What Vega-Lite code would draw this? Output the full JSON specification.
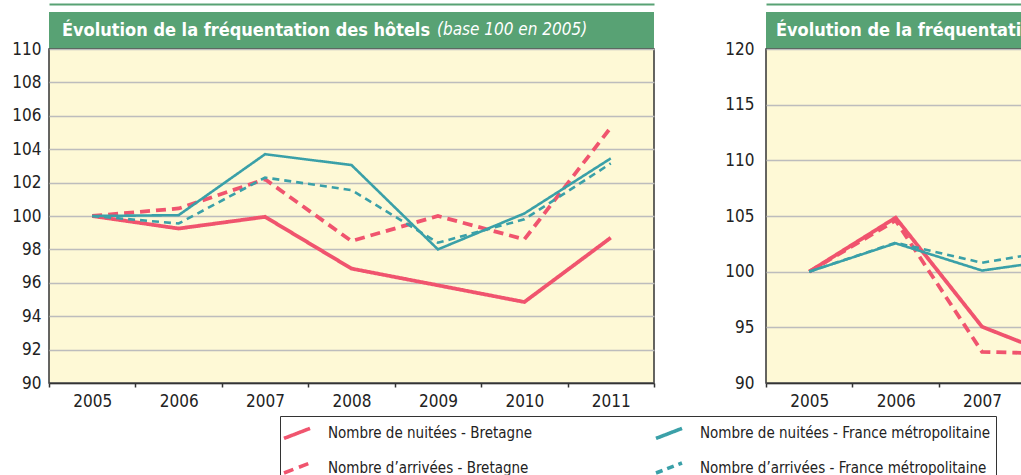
{
  "$schema": "https://vega.github.io/schema/vega-lite/v6.json",
  "padding": {"left": 11, "top": 4, "right": 0, "bottom": 0},
  "autosize": {"type": "pad"},
  "background": "white",
  "config": {
    "font": "DejaVu Sans Condensed, Liberation Sans, sans-serif",
    "view": {"stroke": "#333333", "strokeWidth": 1.5, "fill": "#fef9d6"},
    "axis": {
      "labelFont": "DejaVu Sans Condensed, Liberation Sans, sans-serif",
      "labelFontSize": 17,
      "labelColor": "#222222"
    },
    "legend": {
      "labelFont": "DejaVu Sans Condensed, Liberation Sans, sans-serif"
    }
  },
  "datasets": {
    "hotels": [
      {"annee": "2005", "serie": "Nombre de nuitées - Bretagne", "valeur": 100},
      {"annee": "2006", "serie": "Nombre de nuitées - Bretagne", "valeur": 99.25},
      {"annee": "2007", "serie": "Nombre de nuitées - Bretagne", "valeur": 99.95},
      {"annee": "2008", "serie": "Nombre de nuitées - Bretagne", "valeur": 96.85},
      {"annee": "2009", "serie": "Nombre de nuitées - Bretagne", "valeur": 95.85},
      {"annee": "2010", "serie": "Nombre de nuitées - Bretagne", "valeur": 94.85},
      {"annee": "2011", "serie": "Nombre de nuitées - Bretagne", "valeur": 98.7},
      {"annee": "2005", "serie": "Nombre de nuitées - France métropolitaine", "valeur": 100},
      {"annee": "2006", "serie": "Nombre de nuitées - France métropolitaine", "valeur": 100.05},
      {"annee": "2007", "serie": "Nombre de nuitées - France métropolitaine", "valeur": 103.7},
      {"annee": "2008", "serie": "Nombre de nuitées - France métropolitaine", "valeur": 103.05},
      {"annee": "2009", "serie": "Nombre de nuitées - France métropolitaine", "valeur": 98.0},
      {"annee": "2010", "serie": "Nombre de nuitées - France métropolitaine", "valeur": 100.15},
      {"annee": "2011", "serie": "Nombre de nuitées - France métropolitaine", "valeur": 103.45},
      {"annee": "2005", "serie": "Nombre d’arrivées - Bretagne", "valeur": 100},
      {"annee": "2006", "serie": "Nombre d’arrivées - Bretagne", "valeur": 100.45},
      {"annee": "2007", "serie": "Nombre d’arrivées - Bretagne", "valeur": 102.2},
      {"annee": "2008", "serie": "Nombre d’arrivées - Bretagne", "valeur": 98.5},
      {"annee": "2009", "serie": "Nombre d’arrivées - Bretagne", "valeur": 100.0},
      {"annee": "2010", "serie": "Nombre d’arrivées - Bretagne", "valeur": 98.6},
      {"annee": "2011", "serie": "Nombre d’arrivées - Bretagne", "valeur": 105.3},
      {"annee": "2005", "serie": "Nombre d’arrivées - France métropolitaine", "valeur": 100},
      {"annee": "2006", "serie": "Nombre d’arrivées - France métropolitaine", "valeur": 99.55},
      {"annee": "2007", "serie": "Nombre d’arrivées - France métropolitaine", "valeur": 102.3},
      {"annee": "2008", "serie": "Nombre d’arrivées - France métropolitaine", "valeur": 101.55},
      {"annee": "2009", "serie": "Nombre d’arrivées - France métropolitaine", "valeur": 98.4},
      {"annee": "2010", "serie": "Nombre d’arrivées - France métropolitaine", "valeur": 99.8},
      {"annee": "2011", "serie": "Nombre d’arrivées - France métropolitaine", "valeur": 103.15}
    ],
    "campings": [
      {"annee": "2005", "serie": "Nombre de nuitées - Bretagne", "valeur": 100},
      {"annee": "2006", "serie": "Nombre de nuitées - Bretagne", "valeur": 104.85},
      {"annee": "2007", "serie": "Nombre de nuitées - Bretagne", "valeur": 95.05},
      {"annee": "2008", "serie": "Nombre de nuitées - Bretagne", "valeur": 92.0},
      {"annee": "2005", "serie": "Nombre de nuitées - France métropolitaine", "valeur": 100},
      {"annee": "2006", "serie": "Nombre de nuitées - France métropolitaine", "valeur": 102.55},
      {"annee": "2007", "serie": "Nombre de nuitées - France métropolitaine", "valeur": 100.1},
      {"annee": "2008", "serie": "Nombre de nuitées - France métropolitaine", "valeur": 101.2},
      {"annee": "2005", "serie": "Nombre d’arrivées - Bretagne", "valeur": 100},
      {"annee": "2006", "serie": "Nombre d’arrivées - Bretagne", "valeur": 104.6},
      {"annee": "2007", "serie": "Nombre d’arrivées - Bretagne", "valeur": 92.8},
      {"annee": "2008", "serie": "Nombre d’arrivées - Bretagne", "valeur": 92.6},
      {"annee": "2005", "serie": "Nombre d’arrivées - France métropolitaine", "valeur": 100},
      {"annee": "2006", "serie": "Nombre d’arrivées - France métropolitaine", "valeur": 102.6},
      {"annee": "2007", "serie": "Nombre d’arrivées - France métropolitaine", "valeur": 100.8},
      {"annee": "2008", "serie": "Nombre d’arrivées - France métropolitaine", "valeur": 102.1}
    ]
  },
  "bounds": "flush",
  "columns": 2,
  "spacing": {"row": 0, "column": 112},
  "concat": [
    {
      "width": 605,
      "height": 37,
      "view": {"stroke": null, "fill": null},
      "data": {"values": [{"k": 1}]},
      "title": {
        "text": "Évolution de la fréquentation des hôtels",
        "frame": "group", "anchor": "start", "orient": "top",
        "offset": -25, "dy": 25, "baseline": "alphabetic", "dx": 13,
        "color": "white", "fontSize": 18, "fontWeight": "bold",
        "font": "DejaVu Sans Condensed, Liberation Sans, sans-serif"
      },
      "mark": {"type": "rect", "fill": "#58a274"},
      "encoding": {
        "x": {"datum": 0, "type": "quantitative", "scale": {"domain": [0, 1]},
              "axis": {"orient": "top", "offset": 8, "labels": false, "ticks": false, "grid": false, "title": null, "domainColor": "#58a274", "domainWidth": 2}},
        "x2": {"datum": 1}
      }
    },
    {
      "width": 605,
      "height": 37,
      "view": {"stroke": null, "fill": null},
      "data": {"values": [{"k": 1}]},
      "title": {
        "text": "Évolution de la fréquentation des campings",
        "frame": "group", "anchor": "start", "orient": "top",
        "offset": -25, "dy": 25, "baseline": "alphabetic", "dx": 10,
        "color": "white", "fontSize": 18, "fontWeight": "bold",
        "font": "DejaVu Sans Condensed, Liberation Sans, sans-serif"
      },
      "mark": {"type": "rect", "fill": "#58a274"},
      "encoding": {
        "x": {"datum": 0, "type": "quantitative", "scale": {"domain": [0, 1]},
              "axis": {"orient": "top", "offset": 8, "labels": false, "ticks": false, "grid": false, "title": null, "domainColor": "#58a274", "domainWidth": 2}},
        "x2": {"datum": 1}
      }
    },
    {
      "width": 605,
      "height": 334,
      "data": {"name": "hotels"},
      "title": {
        "text": "(base 100 en 2005)",
        "frame": "group", "anchor": "start", "orient": "top",
        "offset": 13, "dy": 25, "baseline": "alphabetic", "dx": 388,
        "color": "white", "fontSize": 17, "fontWeight": "normal", "fontStyle": "italic",
        "font": "DejaVu Sans Condensed, Liberation Sans, sans-serif"
      },
      "encoding": {
        "x": {"field": "annee", "type": "ordinal", "bandPosition": 0.5,
              "scale": {"type": "band", "paddingInner": 0, "paddingOuter": 0, "domain": ["2005","2006","2007","2008","2009","2010","2011"]},
              "axis": {"title": null, "labelAngle": 0, "tickBand": "extent", "tickSize": 4, "tickColor": "#333333", "tickWidth": 1.5, "domainColor": "#333333", "domainWidth": 1.5, "labelPadding": 6, "grid": false}},
        "y": {"field": "valeur", "type": "quantitative",
              "scale": {"domain": [90, 110], "nice": false, "zero": false},
              "axis": {"title": null, "values": [90,92,94,96,98,100,102,104,106,108,110], "ticks": false, "domain": false, "labelPadding": 8, "gridColor": "#bdbdbd", "gridWidth": 1.5}},
        "color": {"field": "serie", "type": "nominal",
                  "scale": {"domain": ["Nombre de nuitées - Bretagne", "Nombre d’arrivées - Bretagne", "Nombre de nuitées - France métropolitaine", "Nombre d’arrivées - France métropolitaine"],
                            "range": ["#f0546e", "#f0546e", "#3aa0a8", "#3aa0a8"]},
                  "legend": {"title": null, "orient": "none", "legendX": 231, "legendY": 404, "columns": 2, "columnPadding": 115, "rowPadding": 9,
                             "symbolType": "M-1.3,0.5L1.3,-0.5", "symbolSize": 400, "symbolStrokeWidth": 3.6, "labelFontSize": 15, "labelColor": "#222222", "labelOffset": 19,
                             "strokeColor": "#333333", "fillColor": "white", "padding": 5, "labelLimit": 400}},
        "strokeDash": {"field": "serie", "type": "nominal",
                       "scale": {"domain": ["Nombre de nuitées - Bretagne", "Nombre d’arrivées - Bretagne", "Nombre de nuitées - France métropolitaine", "Nombre d’arrivées - France métropolitaine"],
                                 "range": [[1, 0], [10, 6], [1, 0], [7, 5]]},
                       "legend": {"title": null, "orient": "none", "legendX": 231, "legendY": 404, "columns": 2, "columnPadding": 115, "rowPadding": 9,
                             "symbolType": "M-1.3,0.5L1.3,-0.5", "symbolSize": 400, "symbolStrokeWidth": 3.6, "labelFontSize": 15, "labelColor": "#222222", "labelOffset": 19,
                             "strokeColor": "#333333", "fillColor": "white", "padding": 5, "labelLimit": 400}}
      },
      "layer": [
        {
          "transform": [{"filter": "indexof(datum.serie, 'Bretagne') >= 0"}],
          "mark": {"type": "line", "strokeWidth": 3.8, "strokeCap": "butt"}
        },
        {
          "transform": [{"filter": "indexof(datum.serie, 'France') >= 0"}],
          "mark": {"type": "line", "strokeWidth": 2.6, "strokeCap": "butt"}
        }
      ]
    },
    {
      "width": 605,
      "height": 334,
      "data": {"name": "campings"},
      "encoding": {
        "x": {"field": "annee", "type": "ordinal", "bandPosition": 0.5,
              "scale": {"type": "band", "paddingInner": 0, "paddingOuter": 0, "domain": ["2005","2006","2007","2008","2009","2010","2011"]},
              "axis": {"title": null, "labelAngle": 0, "tickBand": "extent", "tickSize": 4, "tickColor": "#333333", "tickWidth": 1.5, "domainColor": "#333333", "domainWidth": 1.5, "labelPadding": 6, "grid": false}},
        "y": {"field": "valeur", "type": "quantitative",
              "scale": {"domain": [90, 120], "nice": false, "zero": false},
              "axis": {"title": null, "values": [90,95,100,105,110,115,120], "ticks": false, "domain": false, "labelPadding": 12, "gridColor": "#bdbdbd", "gridWidth": 1.5}},
        "color": {"field": "serie", "type": "nominal",
                  "scale": {"domain": ["Nombre de nuitées - Bretagne", "Nombre d’arrivées - Bretagne", "Nombre de nuitées - France métropolitaine", "Nombre d’arrivées - France métropolitaine"],
                            "range": ["#f0546e", "#f0546e", "#3aa0a8", "#3aa0a8"]},
                  "legend": null},
        "strokeDash": {"field": "serie", "type": "nominal",
                       "scale": {"domain": ["Nombre de nuitées - Bretagne", "Nombre d’arrivées - Bretagne", "Nombre de nuitées - France métropolitaine", "Nombre d’arrivées - France métropolitaine"],
                                 "range": [[1, 0], [10, 6], [1, 0], [7, 5]]},
                       "legend": null}
      },
      "layer": [
        {
          "transform": [{"filter": "indexof(datum.serie, 'Bretagne') >= 0"}],
          "mark": {"type": "line", "strokeWidth": 3.8, "strokeCap": "butt"}
        },
        {
          "transform": [{"filter": "indexof(datum.serie, 'France') >= 0"}],
          "mark": {"type": "line", "strokeWidth": 2.6, "strokeCap": "butt"}
        }
      ]
    }
  ],
  "resolve": {"scale": {"color": "shared", "strokeDash": "shared"}}
}
